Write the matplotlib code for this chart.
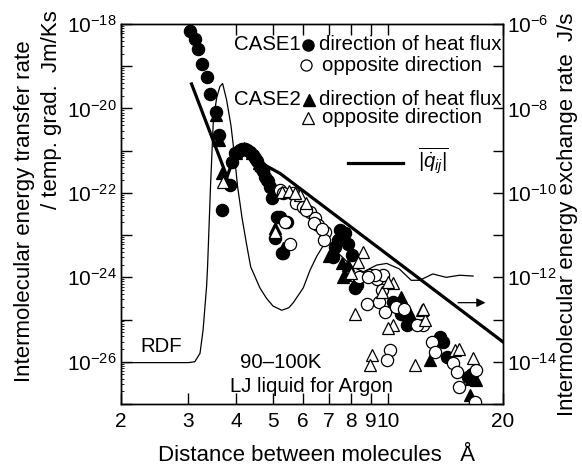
import matplotlib
matplotlib.use("Agg")
import matplotlib.pyplot as plt
import numpy as np
from matplotlib.ticker import FixedLocator, FuncFormatter, LogLocator, NullFormatter, NullLocator

plt.rcParams['font.family'] = ['Liberation Sans', 'DejaVu Sans']
plt.rcParams['mathtext.fontset'] = 'custom'
plt.rcParams['mathtext.rm'] = 'Liberation Sans'
plt.rcParams['mathtext.it'] = 'Liberation Sans:italic'

# ---- data (x in Angstrom, y given as log10 of left-axis value) ----
c1_dir_x = [3.04, 3.12, 3.19, 3.26, 3.35, 3.43, 3.54, 3.60, 3.86, 3.67,
            3.90, 3.98, 4.05, 4.10, 4.15, 4.22, 4.28, 4.35, 4.42, 4.49, 4.55, 4.62, 4.70,
            4.76, 4.84, 4.91, 4.96, 5.11, 5.06, 5.27,
            4.72, 4.81, 5.22, 5.43, 5.32, 7.49, 7.41, 7.27, 7.87, 7.70, 7.19, 8.04, 8.28,
            8.20, 10.33, 10.64, 10.97, 10.80, 11.41, 11.20, 13.68, 13.90, 14.24, 16.20, 16.60]
c1_dir_logy = [-18.16, -18.36, -18.59, -18.95, -19.26, -19.66, -20.09, -20.63, -21.82, -22.41,
               -21.26, -21.06, -21.02, -20.99, -20.97, -20.95, -20.98, -21.03, -21.10, -21.18, -21.25,
               -21.38, -21.48, -21.62, -21.72, -21.86, -22.13, -22.57, -23.08, -23.43,
               -21.46, -21.70, -22.57, -22.68, -23.43, -22.88, -23.12, -23.28, -23.20, -22.95,
               -23.51, -23.47, -24.18,
               -24.26, -24.58, -24.66, -24.78, -24.86, -25.05, -25.13, -25.41, -25.53, -25.88,
               -26.36, -26.30]

c1_opp_x = [5.22, 5.32, 5.65, 5.76, 6.00, 6.25, 6.44, 6.57, 6.84, 6.80, 6.39, 5.38, 5.54, 6.10, 6.70,
            8.40, 8.97, 9.34, 9.72, 9.24, 9.63, 9.50, 9.80, 8.79, 8.87,
            10.12, 9.92, 12.37, 11.90, 13.00, 13.30, 14.80, 17.00, 15.20, 15.30, 16.90, 10.50, 11.00]
c1_opp_logy = [-21.93, -22.01, -22.01, -22.25, -22.33, -22.45, -22.60, -22.76, -22.92, -23.12,
               -22.72, -22.68, -23.20, -22.40, -22.85,
               -23.99, -23.95, -24.03, -23.95, -23.95, -24.30, -24.58, -24.82, -24.62, -23.99,
               -25.73, -25.96, -25.13, -25.13, -25.53, -25.77, -26.04, -26.20, -26.24, -26.59,
               -26.95, -24.70, -24.75]

c2_dir_x = [3.55, 3.62, 3.67, 4.00, 4.20, 4.40, 4.60, 5.06, 5.30, 7.00, 7.56, 7.87, 7.72, 7.63,
            10.80, 11.41, 10.47, 12.88, 16.50, 17.00, 16.40]
c2_dir_logy = [-20.15, -20.75, -21.54, -21.05, -20.93, -21.05, -21.30, -22.84, -23.30, -23.50,
               -23.67, -23.71, -23.95, -23.99, -24.46, -24.86, -24.62, -25.96, -26.40, -26.44, -26.79]

c2_opp_x = [3.70, 5.06, 5.27, 5.50, 5.88, 6.10, 5.70, 8.62, 8.36, 8.00, 10.33, 12.25, 12.50, 10.33,
            9.06, 11.77, 14.97, 15.30, 16.70, 8.20, 8.97, 10.00, 9.63, 10.00, 12.37]
c2_opp_logy = [-21.74, -22.92, -21.97, -21.95, -22.05, -22.25, -22.00, -23.40, -23.63, -23.90,
               -24.14, -24.78, -25.01, -25.13, -25.84, -26.08, -25.73, -25.69, -25.92, -24.86,
               -26.08, -25.21, -24.34, -24.11, -24.74]

q_mean_x = [3.06, 3.79, 3.93, 4.15, 4.35, 4.67, 5.22, 10.0, 20.0]
q_mean_logy = [-19.42, -21.62, -21.22, -20.96, -21.03, -21.30, -21.54, -23.47, -25.53]

rdf_x = [2.0, 3.0, 3.12, 3.22, 3.28, 3.35, 3.37, 3.43, 3.49, 3.56, 3.63, 3.69, 3.78, 3.88,
         3.95, 4.04, 4.15, 4.26, 4.37, 4.62, 4.81, 5.00, 5.27, 5.50, 5.65, 6.00, 6.25, 6.51, 6.84,
         7.10, 7.41, 8.07, 8.62, 9.34, 9.92, 10.7, 11.5, 12.1, 13.1, 14.2, 15.4, 16.7]
rdf_logy = [-26.02, -26.02, -26.00, -25.80, -25.25, -24.22, -23.75, -21.86, -20.27, -19.75,
            -19.48, -19.41, -19.80, -20.40, -21.00, -21.86, -22.60, -23.20, -23.75, -24.25,
            -24.50, -24.68, -24.78, -24.72, -24.60, -24.25, -23.83, -23.50, -23.18, -23.20,
            -23.43, -23.75, -23.87, -23.71, -23.67, -23.80, -24.07, -24.07, -23.92, -24.00,
            -23.95, -23.97]

arrow_x = [15.0, 18.3]
arrow_logy = -24.6

x_ticks = [2, 3, 4, 5, 6, 7, 8, 9, 10, 20]
x_tick_labels = ['2', '3', '4', '5', '6', '7', '8', '9', '10', '20']
left_exp = list(range(-27, -17))
right_exp = list(range(-15, -5))


def pw(v):
    return 10.0 ** np.asarray(v, dtype=float)


fig = plt.figure(figsize=(5.82, 4.65), dpi=100)
ax = fig.add_axes([121 / 582, 1 - 404 / 465, 382 / 582, 380 / 465])
ax.set_xscale('log')
ax.set_yscale('log')
ax.set_xlim(2, 20)
ax.set_ylim(1e-27, 1e-18)

ms = 8.8
mew = 0.9
ax.plot(rdf_x, pw(rdf_logy), color='black', lw=0.9, zorder=2)
ax.plot(q_mean_x, pw(q_mean_logy), color='black', lw=2.3, zorder=2)
ax.plot(c1_dir_x, pw(c1_dir_logy), 'o', ms=ms, mfc='black', mec='black', mew=mew, ls='none', zorder=3)
ax.plot(c2_dir_x, pw(c2_dir_logy), '^', ms=ms, mfc='black', mec='black', mew=mew, ls='none', zorder=3)
ax.plot(c1_opp_x, pw(c1_opp_logy), 'o', ms=ms, mfc='white', mec='black', mew=mew, ls='none', zorder=4)
ax.plot(c2_opp_x, pw(c2_opp_logy), '^', ms=ms, mfc='white', mec='black', mew=mew, ls='none', zorder=4)

ax.annotate('', xy=(arrow_x[1], 10 ** arrow_logy), xytext=(arrow_x[0], 10 ** arrow_logy),
            arrowprops=dict(arrowstyle='-|>', lw=0.9, color='black', mutation_scale=13))

# ticks
ax.xaxis.set_major_locator(FixedLocator(x_ticks))
ax.xaxis.set_minor_locator(NullLocator())
ax.set_xticklabels(x_tick_labels)


def exp_fmt(v, pos):
    e = int(round(np.log10(v)))
    return r'$10^{%d}$' % e if e % 2 == 0 else ''


ax.yaxis.set_major_locator(FixedLocator(pw(left_exp)))
ax.yaxis.set_major_formatter(FuncFormatter(exp_fmt))
ax.yaxis.set_minor_locator(LogLocator(base=10, subs=np.arange(2, 10), numticks=30))
ax.yaxis.set_minor_formatter(NullFormatter())
ax.tick_params(axis='x', which='major', direction='in', top=True, length=8, width=1,
               labelsize=15, pad=6)
ax.tick_params(axis='y', which='major', direction='in', right=False, length=8, width=1,
               labelsize=15, pad=3)
ax.tick_params(axis='y', which='minor', direction='in', right=False, length=2, width=0.6)

ax2 = ax.twinx()
ax2.set_yscale('log')
ax2.set_ylim(1e-15, 1e-6)
ax2.yaxis.set_major_locator(FixedLocator(pw(right_exp)))
ax2.yaxis.set_major_formatter(FuncFormatter(exp_fmt))
ax2.yaxis.set_minor_locator(NullLocator())
ax2.tick_params(axis='y', which='major', direction='in', length=7, width=1, labelsize=15, pad=3)

for a in (ax, ax2):
    for s in a.spines.values():
        s.set_linewidth(1.0)

# axis labels
fig.text(25 / 582, 1 - 211 / 465, 'Intermolecular energy transfer rate', rotation=90,
         ha='center', va='center', fontsize=16)
fig.text(52 / 582, 1 - 10 / 465, '/ temp. grad.  Jm/Ks', rotation=90,
         ha='center', va='top', fontsize=16)
fig.text(567 / 582, 1 - 214 / 465, 'Intermolecular energy exchange rate  J/s', rotation=90,
         ha='center', va='center', fontsize=16)
fig.text(317 / 582, 1 - 455 / 465, 'Distance between molecules   \u00c5',
         ha='center', va='center', fontsize=16)

# legend built by hand
tr = ax.transAxes
fs = 14.7
lms = 8.0
ax.text(0.471, 0.945, 'CASE1', transform=tr, ha='right', va='center', fontsize=fs)
ax.plot([0.490], [0.945], 'o', ms=lms, color='black', transform=tr, clip_on=False)
ax.text(0.519, 0.945, 'direction of heat flux', transform=tr, ha='left', va='center', fontsize=fs)
ax.plot([0.485], [0.892], 'o', ms=lms, mfc='white', mec='black', mew=0.9, transform=tr, clip_on=False)
ax.text(0.525, 0.892, 'opposite direction', transform=tr, ha='left', va='center', fontsize=fs)
ax.text(0.471, 0.800, 'CASE2', transform=tr, ha='right', va='center', fontsize=fs)
ax.plot([0.492], [0.800], '^', ms=lms, color='black', transform=tr, clip_on=False)
ax.text(0.519, 0.800, 'direction of heat flux', transform=tr, ha='left', va='center', fontsize=fs)
ax.plot([0.490], [0.753], '^', ms=lms, mfc='white', mec='black', mew=0.9, transform=tr, clip_on=False)
ax.text(0.525, 0.753, 'opposite direction', transform=tr, ha='left', va='center', fontsize=fs)
ax.plot([0.594, 0.738], [0.634, 0.634], color='black', lw=2.3, transform=tr)
ax.text(0.777, 0.642, r'$\overline{|\dot{q}_{ij}|}$', transform=tr, ha='left', va='center', fontsize=fs)

ax.text(0.105, 0.150, 'RDF', transform=tr, ha='center', va='center', fontsize=fs)
ax.text(0.3115, 0.108, '90\u2013100K', transform=tr, ha='left', va='center', fontsize=fs)
ax.text(0.285, 0.047, 'LJ liquid for Argon', transform=tr, ha='left', va='center', fontsize=fs)

fig.savefig('out.png', dpi=100)
